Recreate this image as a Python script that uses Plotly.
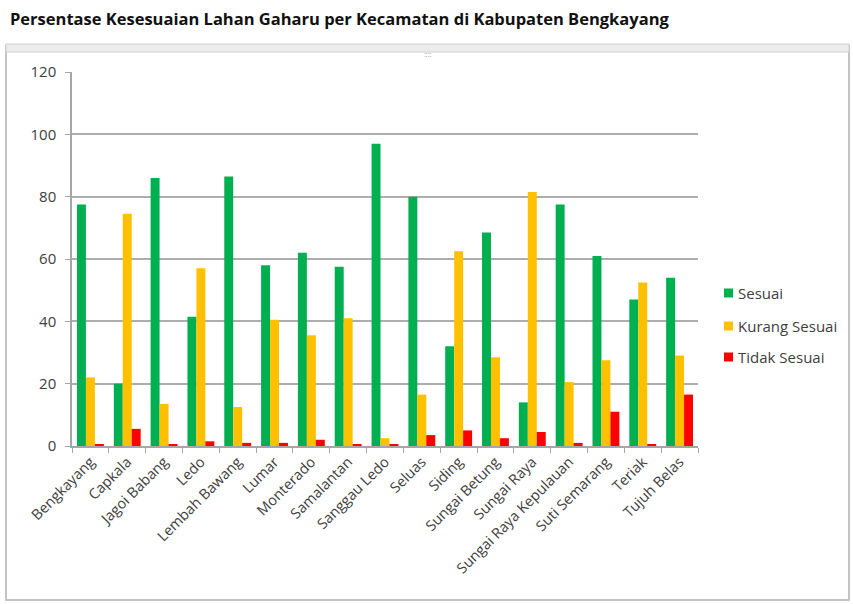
import plotly.graph_objects as go

categories = ["Bengkayang", "Capkala", "Jagoi Babang", "Ledo", "Lembah Bawang", "Lumar",
              "Monterado", "Samalantan", "Sanggau Ledo", "Seluas", "Siding", "Sungai Betung",
              "Sungai Raya", "Sungai Raya Kepulauan", "Suti Semarang", "Teriak", "Tujuh Belas"]
sesuai = [77.5, 20, 86, 41.5, 86.5, 58, 62, 57.5, 97, 80, 32, 68.5, 14, 77.5, 61, 47, 54]
kurang_sesuai = [22, 74.5, 13.5, 57, 12.5, 40.5, 35.5, 41, 2.5, 16.5, 62.5, 28.5, 81.5, 20.5, 27.5, 52.5, 29]
tidak_sesuai = [0.5, 5.5, 0.5, 1.5, 1, 1, 2, 0.5, 0.5, 3.5, 5, 2.5, 4.5, 1, 11, 0.5, 16.5]
y_ticks = [0, 20, 40, 60, 80, 100, 120]

series = [("Sesuai", sesuai, "#00B050"),
          ("Kurang Sesuai", kurang_sesuai, "#FFC000"),
          ("Tidak Sesuai", tidak_sesuai, "#FF0000")]

fig = go.Figure()
for i, (name, vals, col) in enumerate(series):
    fig.add_trace(go.Bar(x=categories, y=vals, name=name, marker_color=col,
                         marker_line_width=0, showlegend=False))

L, R, T, B = 72, 155, 72, 158
W, H = 853, 604
pw, ph = W - L - R, H - T - B

def px(x):
    return (x - L) / pw

def py(y):
    return (H - B - y) / ph

fig.update_layout(
    width=W, height=H,
    margin=dict(l=L, r=R, t=T, b=B, autoexpand=False),
    paper_bgcolor="white", plot_bgcolor="white",
    barmode="group", bargap=0.27, bargroupgap=0,
    font=dict(family="Open Sans, Liberation Sans, sans-serif", color="#404040", size=12),
    title=dict(text="<b>Persentase Kesesuaian Lahan Gaharu per Kecamatan di Kabupaten Bengkayang</b>",
               x=10 / W, xanchor="left", xref="container", y=1 - 19 / H, yanchor="middle",
               yref="container", font=dict(size=16.5, color="#111111",
                                           family="Open Sans, Liberation Sans, sans-serif")),
    showlegend=False,
)
fig.update_xaxes(
    type="category", tickangle=-45, tickson="boundaries", ticks="outside", ticklen=5,
    tickcolor="#A6A6A6", showline=True, linecolor="#A6A6A6", linewidth=1.5,
    showgrid=False, tickfont=dict(size=14.5, color="#404040"),
)
fig.update_yaxes(
    range=[0, 120], tickvals=y_ticks, ticks="outside", ticklen=5, tickcolor="#A6A6A6",
    showline=True, linecolor="#A6A6A6", linewidth=1.5, showgrid=True,
    gridcolor="#ADADAD", gridwidth=1.5, zeroline=False, tickfont=dict(size=15, color="#404040"),
    ticklabelstandoff=6,
)

shapes = [
    dict(type="rect", xref="paper", yref="paper", x0=px(6), x1=px(849), y0=py(600), y1=py(46),
         line=dict(color="#C4C4C4", width=2), fillcolor="rgba(0,0,0,0)", layer="below"),
    dict(type="rect", xref="paper", yref="paper", x0=px(6), x1=px(849), y0=py(52), y1=py(44),
         line=dict(color="#D0D0D0", width=1), fillcolor="#ECECEC", layer="below"),
]
# custom legend (compact spacing like the original)
legend_y = [293, 326, 357]
for (name, vals, col), ly in zip(series, legend_y):
    shapes.append(dict(type="rect", xref="paper", yref="paper", x0=px(724), x1=px(733),
                       y0=py(ly + 4.5), y1=py(ly - 4.5), line=dict(width=0), fillcolor=col))
    fig.add_annotation(xref="paper", yref="paper", x=px(736), y=py(ly), text=name,
                       showarrow=False, xanchor="left", yanchor="middle",
                       font=dict(size=15, color="#404040"))
fig.update_layout(shapes=shapes)
fig.add_annotation(xref="paper", yref="paper", x=px(428), y=py(48), text="::::", showarrow=False,
                   font=dict(size=7, color="#999999"))

fig.write_html("out.html")
